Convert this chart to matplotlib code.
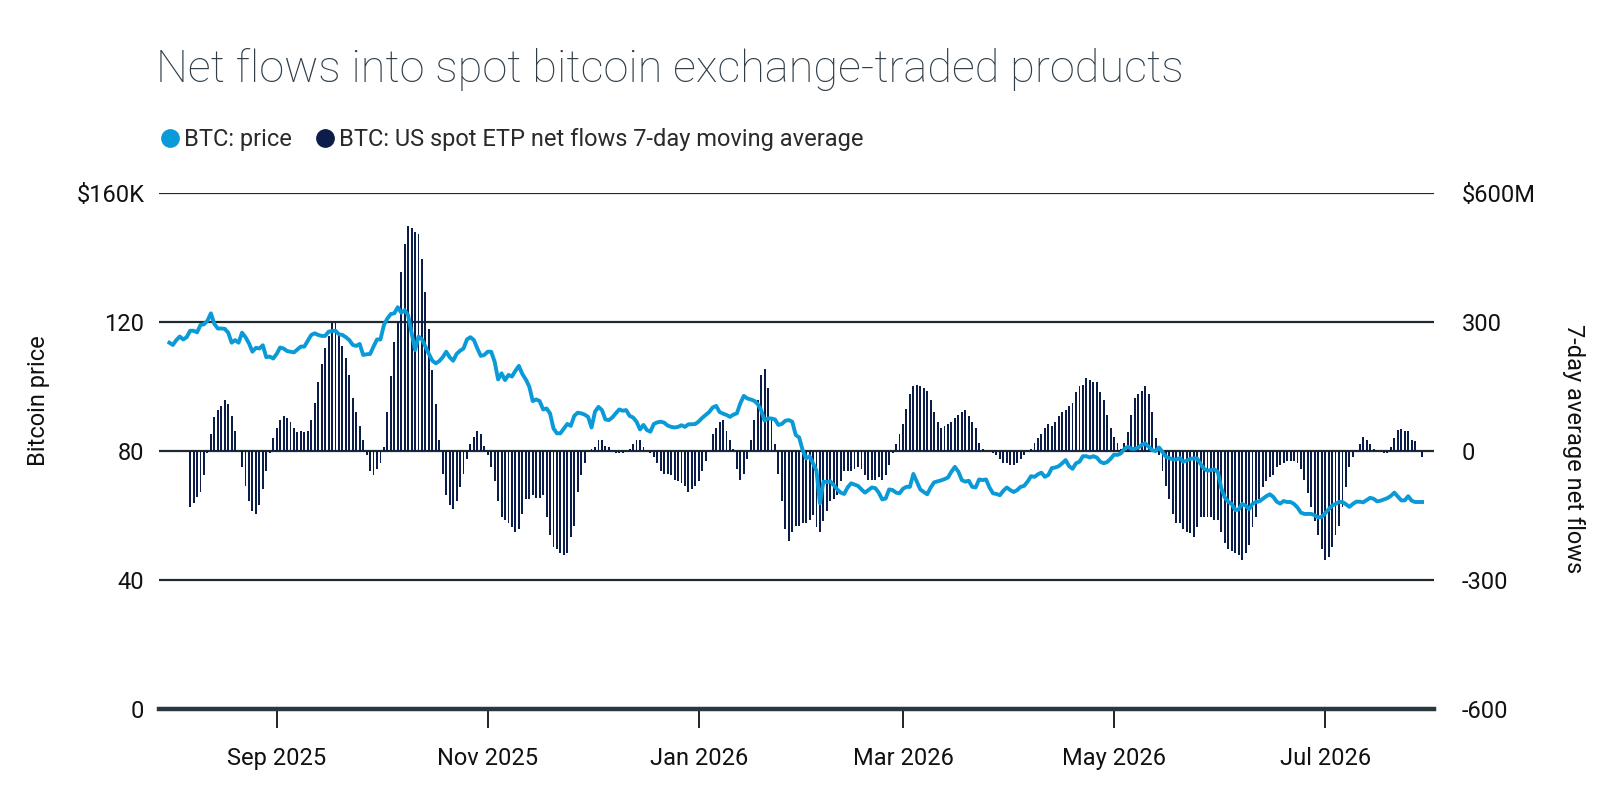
import numpy as np
import pandas as pd
import matplotlib

matplotlib.use("Agg")
import matplotlib.pyplot as plt  # noqa: E402
import matplotlib.dates as mdates  # noqa: E402
from matplotlib.lines import Line2D  # noqa: E402

plt.rcParams["font.family"] = ["Roboto", "DejaVu Sans"]

# daily series, 1 Aug 2025 .. 29 Jul 2026
start_date = "2025-08-01"

# BTC price, $K
btc_price = [
    113.5, 112.8, 114.3, 115.4, 114.5, 115.2, 117.2, 117.2, 116.7, 119.0,
    119.2, 120.3, 122.6, 119.3, 117.9, 117.9, 117.8, 116.6, 113.5, 114.3,
    113.5, 116.6, 115.2, 113.3, 110.7, 111.9, 111.7, 112.7, 109.0, 109.2,
    108.6, 110.0, 112.0, 111.7, 110.9, 110.7, 110.5, 111.4, 112.3, 112.3,
    114.1, 115.9, 116.4, 115.9, 115.6, 115.6, 116.9, 117.1, 117.2, 116.1,
    115.9, 115.2, 114.3, 112.8, 112.5, 113.1, 109.7, 109.9, 110.0, 112.3,
    114.5, 114.5, 119.0, 121.0, 122.4, 122.6, 124.5, 122.8, 123.6, 122.0,
    116.5, 111.2, 115.4, 114.5, 112.3, 110.0, 107.9, 107.1, 107.8, 109.0,
    110.7, 109.0, 107.9, 110.0, 111.0, 111.7, 114.5, 115.2, 114.3, 111.7,
    109.4, 109.7, 110.7, 110.7, 107.6, 102.1, 104.0, 101.9, 103.5, 103.0,
    104.8, 106.3, 103.8, 102.1, 99.9, 95.4, 95.9, 95.4, 92.8, 93.1,
    91.6, 86.9, 85.4, 85.4, 86.9, 88.3, 87.7, 90.8, 91.8, 91.6,
    91.2, 90.5, 87.2, 92.1, 93.6, 92.6, 89.7, 89.5, 90.3, 91.6,
    92.8, 92.4, 92.6, 90.8, 90.3, 89.0, 86.6, 88.0, 86.4, 85.9,
    88.3, 88.8, 89.0, 88.7, 87.8, 87.4, 87.2, 87.4, 87.9, 87.4,
    88.2, 88.2, 88.3, 89.1, 90.2, 91.1, 92.0, 93.4, 93.9, 92.0,
    91.5, 91.1, 90.5, 91.2, 91.6, 94.7, 97.0, 96.2, 95.9, 95.5,
    94.5, 92.6, 89.3, 90.0, 90.0, 89.7, 88.0, 88.3, 89.3, 89.5,
    89.0, 84.9, 84.1, 80.2, 77.6, 78.3, 76.1, 73.8, 63.7, 70.4,
    70.3, 70.5, 69.3, 68.0, 67.0, 66.6, 68.6, 69.9, 69.5, 69.1,
    68.0, 67.0, 67.8, 68.6, 68.4, 67.0, 64.9, 65.2, 68.0, 67.8,
    67.0, 66.8, 68.2, 68.8, 68.8, 72.8, 70.4, 68.0, 67.2, 66.5,
    68.6, 70.2, 70.5, 70.8, 71.2, 71.7, 73.5, 75.0, 73.5, 70.9,
    70.4, 70.7, 68.8, 68.6, 71.1, 70.9, 71.1, 68.6, 66.8, 66.6,
    66.2, 67.6, 68.6, 67.8, 67.2, 67.8, 68.8, 69.1, 70.4, 72.1,
    71.9, 72.7, 73.2, 71.9, 72.5, 74.6, 74.8, 75.2, 76.1, 77.1,
    75.2, 74.4, 76.1, 76.6, 78.3, 78.3, 77.9, 78.3, 77.9, 76.6,
    76.1, 76.5, 77.5, 78.8, 78.7, 79.2, 80.6, 81.2, 80.6, 80.6,
    81.0, 81.8, 82.3, 81.2, 80.2, 79.9, 81.0, 79.6, 78.1, 77.7,
    77.3, 77.3, 77.7, 76.6, 76.9, 77.5, 77.6, 77.6, 75.9, 74.4,
    73.8, 74.0, 74.2, 73.4, 68.3, 65.5, 64.2, 63.5, 61.6, 61.8,
    63.5, 63.0, 61.9, 63.5, 64.1, 64.3, 65.1, 65.9, 66.5, 65.7,
    64.2, 63.6, 64.4, 64.1, 64.1, 63.5, 62.4, 60.8, 60.4, 60.4,
    60.4, 60.0, 59.3, 59.5, 60.6, 61.8, 63.0, 63.5, 64.1, 64.1,
    63.4, 62.6, 63.5, 64.2, 64.2, 64.0, 64.7, 65.4, 65.1, 64.3,
    64.5, 64.9, 65.3, 66.0, 67.0, 65.8, 64.6, 64.6, 65.9, 64.5,
    64.1, 64.1, 64.1,
]

# US spot ETP net flows, 7-day moving average, $M (no value for the first days)
etp_flows = [
    np.nan, np.nan, np.nan, np.nan, np.nan, np.nan, -132, -122, -108, -95,
    -57, -6, 38, 79, 94, 103, 117, 108, 80, 47,
    0, -39, -81, -118, -141, -146, -127, -90, -48, -6,
    29, 52, 71, 80, 75, 66, 52, 43, 47, 43,
    47, 71, 112, 159, 201, 238, 266, 298, 298, 270,
    243, 215, 177, 122, 89, 57, 24, -11, -48, -57,
    -43, -29, 9, 89, 173, 252, 300, 415, 480, 522,
    517, 508, 505, 447, 368, 284, 187, 108, 24, -53,
    -104, -127, -136, -118, -85, -53, -20, 15, 33, 47,
    38, 10, -11, -39, -71, -118, -155, -160, -169, -178,
    -188, -183, -146, -113, -113, -104, -109, -109, -104, -155,
    -197, -225, -229, -239, -243, -239, -201, -174, -95, -57,
    -29, -2, 3, 9, 24, 24, 12, 9, 2, -5,
    -5, -5, 0, 5, 15, 24, 24, 9, 0, -5,
    -15, -29, -48, -53, -55, -57, -67, -71, -76, -81,
    -95, -90, -81, -71, -48, -25, 0, 38, 52, 66,
    71, 47, 24, 5, -43, -67, -53, -20, 24, 71,
    117, 177, 191, 145, 71, 15, -53, -118, -183, -211,
    -188, -174, -174, -169, -169, -160, -150, -178, -188, -164,
    -141, -118, -113, -104, -71, -48, -48, -48, -43, -39,
    -43, -57, -67, -67, -67, -62, -67, -57, -34, -6,
    15, 38, 61, 98, 131, 150, 154, 150, 145, 140,
    117, 89, 66, 52, 57, 61, 66, 75, 84, 89,
    94, 80, 66, 52, 19, 5, 0, -3, -5, -11,
    -20, -29, -29, -34, -34, -29, -20, -11, -2, 5,
    19, 29, 38, 52, 61, 57, 66, 80, 89, 94,
    103, 112, 136, 150, 154, 168, 164, 159, 159, 136,
    117, 84, 52, 33, 19, 5, 19, 43, 84, 122,
    131, 140, 150, 131, 89, 29, -11, -48, -81, -113,
    -146, -169, -169, -183, -188, -192, -201, -178, -155, -155,
    -155, -155, -160, -160, -188, -215, -229, -234, -239, -243,
    -253, -239, -220, -178, -155, -113, -85, -71, -62, -57,
    -39, -34, -29, -25, -25, -25, -29, -43, -67, -99,
    -132, -164, -197, -229, -253, -248, -225, -197, -174, -132,
    -85, -39, -15, 2, 15, 33, 24, 15, 5, 0,
    -3, -5, -5, 9, 29, 48, 50, 47, 47, 25,
    23, 0, -15,
]

left_ticks = [0, 40, 80, 120, 160]
left_labels = ["0", "40", "80", "120", "$160K"]
right_ticks = [-600, -300, 0, 300, 600]
right_labels = ["-600", "-300", "0", "300", "$600M"]

dates = pd.date_range(start_date, periods=len(btc_price), freq="D")
assert len(etp_flows) == len(btc_price)

PRICE_C = "#0a9ad7"
FLOW_C = "#0b1d48"
INK = "#1f2a30"
TITLE_C = "#2e3d48"
TXT = "#111111"
FS = 17

fig = plt.figure(figsize=(16.06, 8.02), dpi=100)
ax = fig.add_axes([0.099, 0.1163, 0.794, 0.6434])
ax2 = ax.twinx()  # price, drawn over the bars

# flows on the right-hand scale
ax.bar(dates, etp_flows, width=0.55, color=FLOW_C, zorder=3)
ax.set_ylim(-600, 600)
for y in (-300, 0, 300, 600):
    ax.axhline(y, color=INK, lw=1.6, zorder=2)
ax.set_xlim(pd.Timestamp("2025-07-29"), pd.Timestamp("2026-08-01 12:00"))
ax.xaxis.set_major_locator(mdates.MonthLocator(bymonth=[1, 3, 5, 7, 9, 11]))
ax.xaxis.set_major_formatter(mdates.DateFormatter("%b %Y"))
for s in ("top", "left", "right"):
    ax.spines[s].set_visible(False)
ax.spines["bottom"].set_color("#2a373f")
ax.spines["bottom"].set_linewidth(3.2)
ax.tick_params(axis="x", length=13.5, width=1.3, color=TXT, pad=14,
               labelsize=FS, labelcolor=TXT)

ax2.plot(dates, btc_price, color=PRICE_C, lw=2.8, solid_joinstyle="round", zorder=4)
ax2.set_ylim(0, 160)
for s in ("top", "left", "right", "bottom"):
    ax2.spines[s].set_visible(False)

# swap sides: price ticks left, flow ticks right
ax.yaxis.tick_right()
ax.set_yticks(right_ticks)
ax.set_yticklabels(right_labels)
ax.tick_params(axis="y", length=0, pad=20, labelsize=FS, labelcolor=TXT)
ax2.yaxis.tick_left()
ax2.set_yticks(left_ticks)
ax2.set_yticklabels(left_labels)
ax2.tick_params(axis="y", length=0, pad=10.5, labelsize=FS, labelcolor=TXT)

fig.text(0.024, 0.50, "Bitcoin price", rotation=90, ha="center", va="center",
         fontsize=FS, color=TXT)
fig.text(0.980, 0.441, "7-day average net flows", rotation=270, ha="center",
         va="center", fontsize=FS, color=TXT)

fig.text(0.097, 0.913, "Net flows into spot bitcoin exchange-traded products",
         fontsize=32.5, fontweight="light", color=TITLE_C, ha="left", va="center")

handles = [
    Line2D([], [], ls="none", marker="o", ms=12.5, color=PRICE_C),
    Line2D([], [], ls="none", marker="o", ms=12.5, color=FLOW_C),
]
fig.legend(handles, ["BTC: price", "BTC: US spot ETP net flows 7-day moving average"],
           loc="center left", bbox_to_anchor=(0.085, 0.826), ncol=2, frameon=False,
           fontsize=FS, handletextpad=0.1, columnspacing=0.9, handlelength=1.0,
           labelcolor="#2a2a2a")

fig.savefig("out.png", dpi=100)
plt.close(fig)
